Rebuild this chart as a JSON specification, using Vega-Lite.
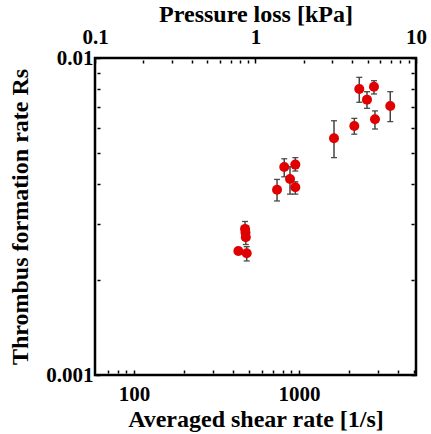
{
  "$schema": "https://vega.github.io/schema/vega-lite/v6.json",
  "width": 321,
  "height": 317,
  "autosize": "none",
  "padding": {"left": 95, "top": 58, "right": 15, "bottom": 59},
  "background": "white",
  "config": {
    "view": {"stroke": "black", "strokeWidth": 2.5},
    "axis": {
      "domain": false,
      "grid": false,
      "labelFont": "Liberation Serif",
      "labelFontWeight": "bold",
      "labelFontSize": 21,
      "labelColor": "black",
      "titleFont": "Liberation Serif",
      "titleFontWeight": "bold",
      "titleFontSize": 24,
      "titleColor": "black",
      "tickColor": "black",
      "tickWidth": 1.5
    }
  },
  "datasets": {
    "pts": [
      {"shear": 2320, "rs": 0.00798, "lo": 0.00725, "hi": 0.00869},
      {"shear": 2848, "rs": 0.00812, "lo": 0.00770, "hi": 0.00848},
      {"shear": 2583, "rs": 0.00739, "lo": 0.00694, "hi": 0.00783},
      {"shear": 3575, "rs": 0.00706, "lo": 0.00630, "hi": 0.00783},
      {"shear": 2888, "rs": 0.00641, "lo": 0.00597, "hi": 0.00681},
      {"shear": 2164, "rs": 0.00610, "lo": 0.00575, "hi": 0.00645},
      {"shear": 1630, "rs": 0.00558, "lo": 0.00485, "hi": 0.00634},
      {"shear": 814, "rs": 0.00453, "lo": 0.00422, "hi": 0.00481},
      {"shear": 950, "rs": 0.00461, "lo": 0.00440, "hi": 0.00485},
      {"shear": 882, "rs": 0.00415, "lo": 0.00372, "hi": 0.00454},
      {"shear": 950, "rs": 0.00391, "lo": 0.00372, "hi": 0.00407},
      {"shear": 736, "rs": 0.00384, "lo": 0.00354, "hi": 0.00414},
      {"shear": 471, "rs": 0.00289, "lo": 0.00274, "hi": 0.00305},
      {"shear": 474, "rs": 0.00281, "lo": 0.00266, "hi": 0.00296},
      {"shear": 476, "rs": 0.00272, "lo": 0.00258, "hi": 0.00286},
      {"shear": 429, "rs": 0.00246, "lo": 0.00240, "hi": 0.00252},
      {"shear": 482, "rs": 0.00242, "lo": 0.00229, "hi": 0.00254}
    ],
    "press": [
      {"p": 0.1, "r": 0.001},
      {"p": 10, "r": 0.01}
    ]
  },
  "layer": [
    {
      "data": {"name": "pts"},
      "encoding": {
        "x": {
          "field": "shear",
          "type": "quantitative",
          "scale": {"type": "log", "domain": [58, 5120], "nice": false},
          "axis": {
            "orient": "bottom",
            "title": "Averaged shear rate [1/s]",
            "values": [70, 80, 90, 100, 200, 300, 400, 500, 600, 700, 800, 900, 1000, 2000, 3000, 4000, 5000],
            "labelExpr": "datum.value == 100 ? '100' : datum.value == 1000 ? '1000' : ''",
            "offset": -5,
            "tickSize": {"condition": {"test": "datum.value == 100 || datum.value == 1000", "value": 5}, "value": 3},
            "labelPadding": 8,
            "titlePadding": 3
          }
        }
      },
      "layer": [
        {
          "mark": {
            "type": "errorbar",
            "ticks": {"size": 6, "color": "black", "thickness": 1.3},
            "rule": {"color": "#444444"},
            "thickness": 1.5
          },
          "encoding": {
            "y": {
              "field": "lo",
              "type": "quantitative",
              "scale": {"type": "log", "domain": [0.001, 0.01], "nice": false},
              "title": "Thrombus formation rate Rs"
            },
            "y2": {"field": "hi"}
          }
        },
        {
          "mark": {"type": "circle", "size": 100, "color": "#e00000", "opacity": 1},
          "encoding": {
            "y": {
              "field": "rs",
              "type": "quantitative",
              "scale": {"type": "log", "domain": [0.001, 0.01], "nice": false},
              "axis": {
                "orient": "left",
                "title": "Thrombus formation rate Rs",
                "values": [0.001, 0.002, 0.003, 0.004, 0.005, 0.006, 0.007, 0.008, 0.009, 0.01],
                "labelExpr": "datum.value == 0.01 ? '0.01' : datum.value == 0.001 ? '0.001' : ''",
                "offset": -5,
                "tickSize": {"condition": {"test": "datum.value == 0.01 || datum.value == 0.001", "value": 5}, "value": 3},
                "labelPadding": 2,
                "titlePadding": 13
              }
            }
          }
        }
      ]
    },
    {
      "data": {"name": "press"},
      "mark": {"type": "point", "opacity": 0},
      "encoding": {
        "x": {
          "field": "p",
          "type": "quantitative",
          "scale": {"type": "log", "domain": [0.1, 10], "nice": false},
          "axis": {
            "orient": "top",
            "title": "Pressure loss [kPa]",
            "values": [0.1, 0.2, 0.3, 0.4, 0.5, 0.6, 0.7, 0.8, 0.9, 1, 2, 3, 4, 5, 6, 7, 8, 9, 10],
            "labelExpr": "datum.value == 0.1 ? '0.1' : datum.value == 1 ? '1' : datum.value == 10 ? '10' : ''",
            "offset": -5,
            "tickSize": {"condition": {"test": "datum.value == 0.1 || datum.value == 1 || datum.value == 10", "value": 5}, "value": 3},
            "labelPadding": 11,
            "labelFlush": false,
            "titlePadding": 0
          }
        },
        "y": {
          "field": "r",
          "type": "quantitative",
          "scale": {"type": "log", "domain": [0.001, 0.01], "nice": false},
          "axis": {
            "orient": "right",
            "title": null,
            "values": [0.001, 0.002, 0.003, 0.004, 0.005, 0.006, 0.007, 0.008, 0.009, 0.01],
            "labels": false,
            "offset": -5,
            "tickSize": {"condition": {"test": "datum.value == 0.01 || datum.value == 0.001", "value": 5}, "value": 3}
          }
        }
      }
    }
  ],
  "resolve": {"scale": {"x": "independent", "y": "independent"}}
}
